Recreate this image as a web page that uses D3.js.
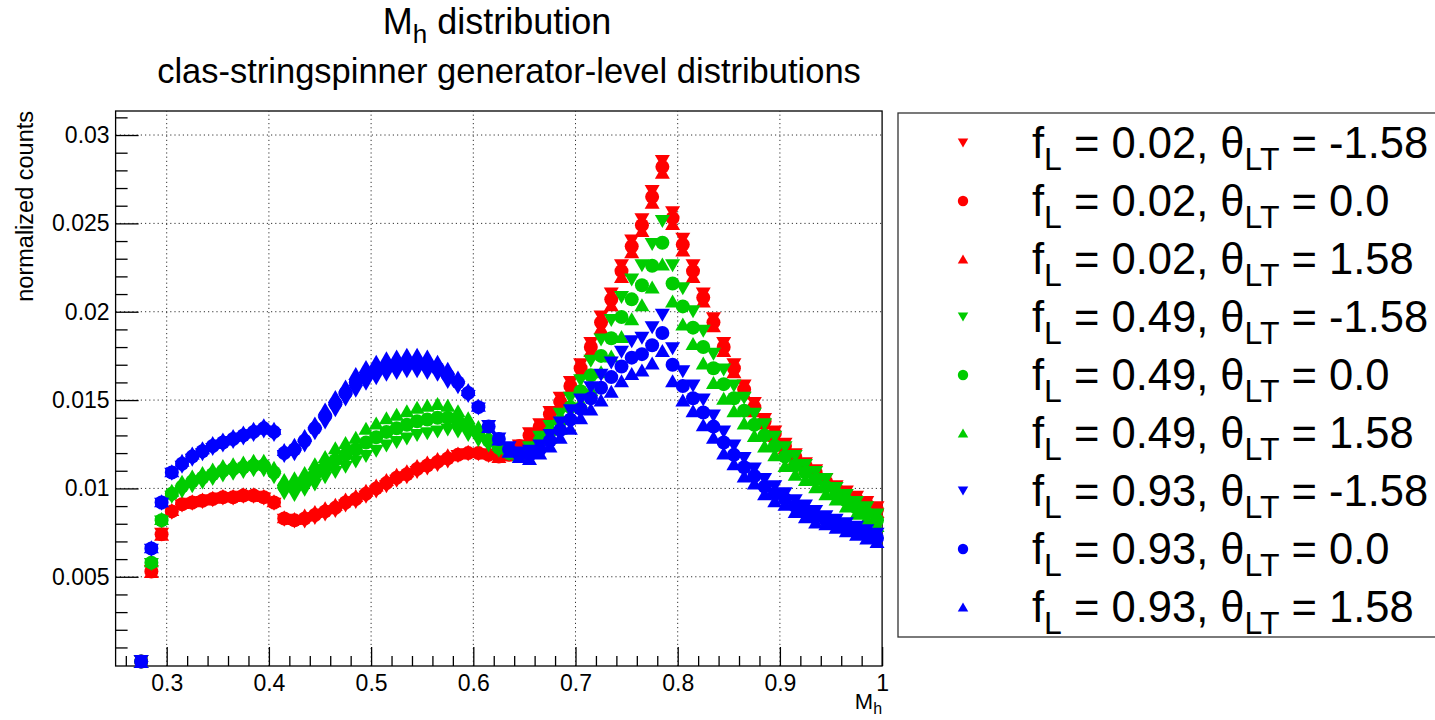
<!DOCTYPE html>
<html><head><meta charset="utf-8">
<script src="https://cdn.jsdelivr.net/npm/d3@7"></script>
<style>
body{margin:0;background:#fff;}
svg{display:block;font-family:"Liberation Sans",Arial,Helvetica,sans-serif;}
</style>
</head><body>
<svg id="c" width="1435" height="720"></svg>
<script>
// ---------------- data ----------------
const binCenters = [0.275,0.285,0.295,0.305,0.315,0.325,0.335,0.345,0.355,0.365,0.375,0.385,0.395,0.405,0.415,0.425,0.435,0.445,0.455,0.465,0.475,0.485,0.495,0.505,0.515,0.525,0.535,0.545,0.555,0.565,0.575,0.585,0.595,0.605,0.615,0.625,0.635,0.645,0.655,0.665,0.675,0.685,0.695,0.705,0.715,0.725,0.735,0.745,0.755,0.765,0.775,0.785,0.795,0.805,0.815,0.825,0.835,0.845,0.855,0.865,0.875,0.885,0.895,0.905,0.915,0.925,0.935,0.945,0.955,0.965,0.975,0.985,0.995];

const redDown = [0.0002,0.0053,0.0074,0.0086,0.0090,0.0091,0.0092,0.0093,0.0094,0.0094,0.0095,0.0095,0.0094,0.0091,0.0082,0.0081,0.0081,0.0083,0.0085,0.0087,0.0090,0.0092,0.0095,0.0098,0.0101,0.0104,0.0106,0.0109,0.0111,0.0113,0.0115,0.0118,0.0119,0.0119,0.0118,0.0118,0.0119,0.0124,0.0131,0.0136,0.0143,0.0151,0.0160,0.0170,0.0182,0.0197,0.0210,0.0226,0.0240,0.0252,0.0268,0.0285,0.0256,0.0241,0.0226,0.0210,0.0196,0.0182,0.0170,0.0158,0.0148,0.0139,0.0132,0.0125,0.0119,0.0114,0.0110,0.0105,0.0101,0.0098,0.0095,0.0092,0.0089];
const redCircle = [0.0002,0.0053,0.0074,0.0087,0.0091,0.0092,0.0093,0.0094,0.0095,0.0095,0.0096,0.0096,0.0095,0.0092,0.0083,0.0082,0.0083,0.0085,0.0087,0.0089,0.0092,0.0094,0.0097,0.0100,0.0103,0.0106,0.0108,0.0111,0.0113,0.0115,0.0117,0.0119,0.0120,0.0120,0.0119,0.0118,0.0119,0.0124,0.0130,0.0135,0.0142,0.0149,0.0158,0.0168,0.0180,0.0194,0.0207,0.0223,0.0237,0.0249,0.0265,0.0282,0.0253,0.0238,0.0223,0.0208,0.0194,0.0180,0.0168,0.0156,0.0146,0.0138,0.0131,0.0124,0.0118,0.0113,0.0109,0.0104,0.0100,0.0097,0.0094,0.0091,0.0088];
const redUp = [0.0002,0.0053,0.0074,0.0088,0.0092,0.0093,0.0094,0.0095,0.0096,0.0096,0.0097,0.0097,0.0096,0.0093,0.0084,0.0083,0.0085,0.0087,0.0089,0.0091,0.0094,0.0096,0.0099,0.0102,0.0105,0.0108,0.0110,0.0113,0.0115,0.0117,0.0119,0.0120,0.0121,0.0121,0.0120,0.0118,0.0119,0.0124,0.0129,0.0134,0.0141,0.0147,0.0156,0.0166,0.0178,0.0191,0.0204,0.0220,0.0234,0.0246,0.0262,0.0279,0.0250,0.0235,0.0220,0.0206,0.0192,0.0178,0.0166,0.0154,0.0144,0.0137,0.0130,0.0123,0.0117,0.0112,0.0108,0.0103,0.0099,0.0096,0.0093,0.0090,0.0087];

const greenDown = [0.0002,0.0057,0.0081,0.0095,0.0098,0.0101,0.0103,0.0105,0.0107,0.0108,0.0109,0.0110,0.0110,0.0106,0.0097,0.0096,0.0099,0.0102,0.0106,0.0109,0.0112,0.0115,0.0118,0.0121,0.0124,0.0126,0.0128,0.0130,0.0131,0.0132,0.0133,0.0132,0.0130,0.0127,0.0124,0.0121,0.0119,0.0119,0.0123,0.0129,0.0135,0.0142,0.0151,0.0161,0.0172,0.0184,0.0195,0.0208,0.0218,0.0226,0.0238,0.0251,0.0226,0.0213,0.0200,0.0189,0.0176,0.0167,0.0158,0.0151,0.0142,0.0136,0.0129,0.0123,0.0118,0.0113,0.0109,0.0105,0.0100,0.0096,0.0092,0.0089,0.0085];
const greenCircle = [0.0002,0.0058,0.0082,0.0097,0.0101,0.0104,0.0106,0.0108,0.0110,0.0111,0.0112,0.0113,0.0113,0.0109,0.0101,0.0101,0.0104,0.0108,0.0112,0.0116,0.0119,0.0122,0.0126,0.0129,0.0132,0.0134,0.0136,0.0138,0.0139,0.0140,0.0140,0.0138,0.0135,0.0131,0.0127,0.0123,0.0120,0.0119,0.0122,0.0127,0.0132,0.0138,0.0146,0.0155,0.0164,0.0175,0.0185,0.0197,0.0207,0.0215,0.0226,0.0239,0.0216,0.0203,0.0191,0.0180,0.0168,0.0159,0.0151,0.0144,0.0136,0.0130,0.0124,0.0118,0.0113,0.0109,0.0105,0.0101,0.0097,0.0093,0.0089,0.0086,0.0082];
const greenUp = [0.0002,0.0059,0.0083,0.0099,0.0104,0.0107,0.0109,0.0111,0.0113,0.0114,0.0115,0.0116,0.0116,0.0112,0.0105,0.0106,0.0109,0.0114,0.0118,0.0123,0.0126,0.0129,0.0134,0.0137,0.0140,0.0142,0.0144,0.0146,0.0147,0.0148,0.0147,0.0144,0.0140,0.0135,0.0130,0.0125,0.0121,0.0119,0.0121,0.0125,0.0129,0.0134,0.0141,0.0149,0.0156,0.0166,0.0175,0.0186,0.0196,0.0204,0.0214,0.0227,0.0206,0.0193,0.0182,0.0171,0.0160,0.0151,0.0144,0.0137,0.0130,0.0124,0.0119,0.0113,0.0108,0.0105,0.0101,0.0097,0.0094,0.0090,0.0086,0.0083,0.0079];

const blueDown = [0.0002,0.0065,0.0091,0.0108,0.0112,0.0116,0.0119,0.0122,0.0124,0.0126,0.0128,0.0130,0.0132,0.0130,0.0118,0.0119,0.0124,0.0131,0.0137,0.0144,0.0150,0.0155,0.0159,0.0162,0.0164,0.0165,0.0166,0.0166,0.0165,0.0164,0.0160,0.0157,0.0152,0.0145,0.0135,0.0128,0.0123,0.0120,0.0121,0.0124,0.0130,0.0137,0.0144,0.0150,0.0157,0.0164,0.0171,0.0177,0.0183,0.0185,0.0191,0.0198,0.0179,0.0166,0.0158,0.0150,0.0141,0.0132,0.0124,0.0117,0.0111,0.0105,0.0101,0.0097,0.0093,0.0090,0.0087,0.0084,0.0082,0.0080,0.0078,0.0076,0.0074];
const blueCircle = [0.0002,0.0066,0.0092,0.0109,0.0114,0.0118,0.0121,0.0124,0.0126,0.0128,0.0130,0.0132,0.0134,0.0132,0.0120,0.0122,0.0127,0.0134,0.0141,0.0148,0.0154,0.0160,0.0164,0.0167,0.0169,0.0170,0.0171,0.0171,0.0170,0.0168,0.0164,0.0160,0.0154,0.0146,0.0135,0.0128,0.0122,0.0119,0.0119,0.0122,0.0127,0.0133,0.0139,0.0145,0.0151,0.0157,0.0163,0.0169,0.0174,0.0176,0.0181,0.0188,0.0170,0.0158,0.0151,0.0143,0.0135,0.0126,0.0119,0.0112,0.0107,0.0101,0.0097,0.0094,0.0090,0.0087,0.0084,0.0082,0.0080,0.0078,0.0076,0.0074,0.0072];
const blueUp = [0.0002,0.0067,0.0093,0.0110,0.0116,0.0120,0.0123,0.0126,0.0128,0.0130,0.0132,0.0134,0.0136,0.0134,0.0122,0.0125,0.0130,0.0137,0.0145,0.0152,0.0158,0.0165,0.0169,0.0172,0.0174,0.0175,0.0176,0.0176,0.0175,0.0172,0.0168,0.0163,0.0156,0.0147,0.0135,0.0128,0.0121,0.0118,0.0117,0.0120,0.0124,0.0129,0.0134,0.0140,0.0145,0.0150,0.0155,0.0161,0.0165,0.0167,0.0171,0.0178,0.0161,0.0150,0.0144,0.0136,0.0129,0.0120,0.0114,0.0107,0.0103,0.0097,0.0093,0.0091,0.0087,0.0084,0.0081,0.0080,0.0078,0.0076,0.0074,0.0072,0.0070];

const fLValues = ["0.02","0.02","0.02","0.49","0.49","0.49","0.93","0.93","0.93"];
const thetaValues = ["-1.58","0.0","1.58","-1.58","0.0","1.58","-1.58","0.0","1.58"];

const xTickValues = [0.3,0.4,0.5,0.6,0.7,0.8,0.9,1.0];
const xTickLabels = ["0.3","0.4","0.5","0.6","0.7","0.8","0.9","1"];
const xMinorValues = [0.26,0.28,0.32,0.34,0.36,0.38,0.42,0.44,0.46,0.48,0.52,0.54,0.56,0.58,0.62,0.64,0.66,0.68,0.72,0.74,0.76,0.78,0.82,0.84,0.86,0.88,0.92,0.94,0.96,0.98];
const yTickValues = [0.005,0.01,0.015,0.02,0.025,0.03];
const yTickLabels = ["0.005","0.01","0.015","0.02","0.025","0.03"];
const yMinorValues = [0.001,0.002,0.003,0.004,0.006,0.007,0.008,0.009,0.011,0.012,0.013,0.014,0.016,0.017,0.018,0.019,0.021,0.022,0.023,0.024,0.026,0.027,0.028,0.029,0.031];

// ---------------- setup ----------------
const RED = "#ff0000", GREEN = "#00cc00", BLUE = "#0000ff";
const series = [
  {values: redDown,     color: RED,   marker: "down"},
  {values: redCircle,   color: RED,   marker: "circle"},
  {values: redUp,       color: RED,   marker: "up"},
  {values: greenDown,   color: GREEN, marker: "down"},
  {values: greenCircle, color: GREEN, marker: "circle"},
  {values: greenUp,     color: GREEN, marker: "up"},
  {values: blueDown,    color: BLUE,  marker: "down"},
  {values: blueCircle,  color: BLUE,  marker: "circle"},
  {values: blueUp,      color: BLUE,  marker: "up"}
];
series.forEach((s,i)=>{ s.fL = fLValues[i]; s.theta = thetaValues[i]; });

const svg = d3.select("#c");
const x = d3.scaleLinear().domain([0.25, 1.0]).range([115.6, 882.1]);
const y = d3.scaleLinear().domain([-0.00005, 0.03136]).range([666, 111]);
const [X0, X1] = x.range();
const [Y0, Y1] = y.range(); // Y0 bottom, Y1 top

function markerShape(type, r, w, h) {
  const p = d3.path();
  if (type === "circle") { p.moveTo(r, 0); p.arc(0, 0, r, 0, 2 * Math.PI); }
  else if (type === "up") { p.moveTo(-w/2, h/2); p.lineTo(w/2, h/2); p.lineTo(0, -h/2); p.closePath(); }
  else { p.moveTo(-w/2, -h/2); p.lineTo(w/2, -h/2); p.lineTo(0, h/2); p.closePath(); }
  return p.toString();
}

// ---------------- grid ----------------
const grid = svg.append("g");
grid.selectAll("line.vg").data(xTickValues.filter(v => v < 1.0)).join("line")
  .attr("x1", d => x(d)).attr("x2", d => x(d)).attr("y1", Y0).attr("y2", Y1)
  .attr("stroke", "#333").attr("stroke-width", 1).attr("stroke-dasharray", "1.2,3");
grid.selectAll("line.hg").data(yTickValues).join("line")
  .attr("x1", X0).attr("x2", X1).attr("y1", d => y(d)).attr("y2", d => y(d))
  .attr("stroke", "#333").attr("stroke-width", 1).attr("stroke-dasharray", "1.2,3");

// ---------------- axes ----------------
function styleAxis(g, fs) {
  g.attr("font-family", null).attr("font-size", null);
  g.selectAll(".domain").remove();
  g.selectAll(".tick line").attr("stroke", "#000").attr("stroke-width", 1.3);
  g.selectAll(".tick text").attr("fill", "#000").style("font-size", fs + "px")
    .style("font-family", '"Liberation Sans", Arial, Helvetica, sans-serif');
}
const gY = svg.append("g").attr("transform", `translate(${X0},0)`)
  .call(d3.axisLeft(y).tickValues(yTickValues).tickFormat((d,i) => yTickLabels[i]).tickSizeInner(-23).tickSizeOuter(0).tickPadding(6));
styleAxis(gY, 23);
const gYm = svg.append("g").attr("transform", `translate(${X0},0)`)
  .call(d3.axisLeft(y).tickValues(yMinorValues).tickFormat("").tickSizeInner(-12).tickSizeOuter(0));
styleAxis(gYm, 23);
const gX = svg.append("g").attr("transform", `translate(0,${Y0})`)
  .call(d3.axisBottom(x).tickValues(xTickValues).tickFormat((d,i) => xTickLabels[i]).tickSizeInner(-19).tickSizeOuter(0).tickPadding(9));
styleAxis(gX, 23);
const gXm = svg.append("g").attr("transform", `translate(0,${Y0})`)
  .call(d3.axisBottom(x).tickValues(xMinorValues).tickFormat("").tickSizeInner(-10).tickSizeOuter(0));
styleAxis(gXm, 23);

// frame
svg.append("rect").attr("x", X0).attr("y", Y1).attr("width", X1 - X0).attr("height", Y0 - Y1)
  .attr("fill", "none").attr("stroke", "#000").attr("stroke-width", 1.3);

// ---------------- points ----------------
const plot = svg.append("g");
series.forEach(s => {
  const d = markerShape(s.marker, 7, 15, 13);
  plot.append("g").selectAll("path").data(s.values.map((v, i) => ({x: binCenters[i], v})))
    .join("path")
    .attr("d", d)
    .attr("transform", p => `translate(${x(p.x)},${y(p.v)})`)
    .attr("fill", s.color);
});

// ---------------- titles ----------------
const t1 = svg.append("text").attr("x", 497).attr("y", 34).attr("text-anchor", "middle")
  .style("font-size", "36px").attr("fill", "#000");
t1.append("tspan").text("M");
t1.append("tspan").text("h").style("font-size", "26px").attr("dy", 9);
t1.append("tspan").text(" distribution").attr("dy", -9);

svg.append("text").attr("x", 509).attr("y", 83).attr("text-anchor", "middle")
  .style("font-size", "34.5px").attr("fill", "#000").text("clas-stringspinner generator-level distributions");

svg.append("text").attr("transform", `translate(33,${Y1}) rotate(-90)`).attr("text-anchor", "end")
  .style("font-size", "23.5px").attr("fill", "#000").text("normalized counts");

const xl = svg.append("text").attr("x", X1).attr("y", 709).attr("text-anchor", "end")
  .style("font-size", "22px").attr("fill", "#000");
xl.append("tspan").text("M");
xl.append("tspan").text("h").style("font-size", "16px").attr("dy", 5);

// ---------------- legend ----------------
const leg = svg.append("g");
leg.append("rect").attr("x", 898).attr("y", 113).attr("width", 560).attr("height", 524)
  .attr("fill", "#fff").attr("stroke", "#333").attr("stroke-width", 1.3);
series.forEach((s, i) => {
  const base = 158 + 58 * i;
  leg.append("path").attr("d", markerShape(s.marker, 5.2, 10.5, 9))
    .attr("transform", `translate(963,${base - 15})`).attr("fill", s.color);
  const t = leg.append("text").attr("x", 1032).attr("y", base).style("font-size", "43.5px").attr("fill", "#000");
  t.append("tspan").text("f");
  t.append("tspan").text("L").style("font-size", "32px").attr("dy", 12);
  t.append("tspan").text(" = " + s.fL + ", \u03B8").attr("dy", -12);
  t.append("tspan").text("LT").style("font-size", "32px").attr("dy", 12);
  t.append("tspan").text(" = " + s.theta).attr("dy", -12);
});
</script>
</body></html>
